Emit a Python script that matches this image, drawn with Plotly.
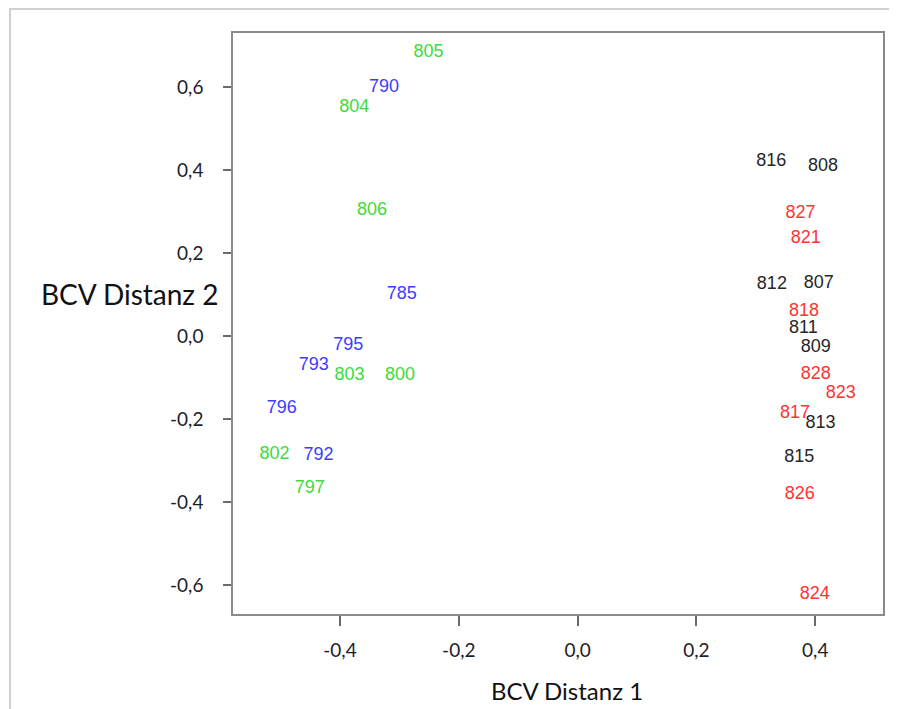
import plotly.graph_objects as go

# ---- data (BCV distances) ----
green_labels = ["805", "804", "806", "803", "800", "802", "797"]
green_x = [-0.251, -0.376, -0.346, -0.384, -0.299, -0.510, -0.451]
green_y = [0.682, 0.550, 0.302, -0.096, -0.096, -0.286, -0.367]

blue_labels = ["790", "785", "795", "793", "796", "792"]
blue_x = [-0.326, -0.296, -0.386, -0.444, -0.498, -0.436]
blue_y = [0.598, 0.101, -0.024, -0.072, -0.176, -0.289]

black_labels = ["816", "808", "812", "807", "811", "809", "813", "815"]
black_x = [0.326, 0.413, 0.327, 0.406, 0.380, 0.401, 0.409, 0.373]
black_y = [0.421, 0.409, 0.123, 0.126, 0.019, -0.029, -0.212, -0.293]

red_labels = ["827", "821", "818", "828", "823", "817", "826", "824"]
red_x = [0.375, 0.384, 0.381, 0.401, 0.443, 0.366, 0.374, 0.399]
red_y = [0.296, 0.234, 0.059, -0.094, -0.138, -0.186, -0.381, -0.622]

x_tickvals = [-0.4, -0.2, 0.0, 0.2, 0.4]
x_ticktext = ["-0,4", "-0,2", "0,0", "0,2", "0,4"]
y_tickvals = [0.6, 0.4, 0.2, 0.0, -0.2, -0.4, -0.6]
y_ticktext = ["0,6", "0,4", "0,2", "0,0", "-0,2", "-0,4", "-0,6"]

x_title = "BCV Distanz 1"
y_title = "BCV Distanz 2"

# the page body has an 8px margin; figure pixel coords = page coords - 8
OFF = 8
W, H = 897 - OFF, 709 - OFF
PL, PR, PT, PB = 233 - OFF, 883 - OFF, 33 - OFF, 614 - OFF
PW, PH = PR - PL, PB - PT


def px(xp):
    return (xp - OFF - PL) / PW


def py(yp):
    return (PB - (yp - OFF)) / PH


fig = go.Figure()
groups = [
    (green_labels, green_x, green_y, "#3cdc3c"),
    (blue_labels, blue_x, blue_y, "#3c3cff"),
    (black_labels, black_x, black_y, "#262626"),
    (red_labels, red_x, red_y, "#ff3333"),
]
for labels, xs, ys, col in groups:
    fig.add_trace(go.Scatter(
        x=xs, y=ys, text=labels, mode="text", textposition="middle center",
        textfont=dict(family="Liberation Sans, Arial, sans-serif", size=18, color=col),
        showlegend=False, hoverinfo="skip",
    ))

axis_common = dict(
    showgrid=False, zeroline=False, showline=True, mirror=True,
    linecolor="#8a8a8a", linewidth=1.5,
    ticks="outside", tickcolor="#6a6a6a", tickwidth=1.5,
    tickfont=dict(family="Lato, Open Sans, sans-serif", size=19, color="#1e1e28"),
)

fig.update_layout(
    width=W, height=H,
    margin=dict(l=PL, r=W - PR, t=PT, b=H - PB),
    paper_bgcolor="white", plot_bgcolor="white",
    xaxis=dict(range=[-0.580, 0.514], tickvals=x_tickvals, ticktext=x_ticktext,
               ticklen=10, ticklabelstandoff=8, **axis_common),
    yaxis=dict(range=[-0.670, 0.730], tickvals=y_tickvals, ticktext=y_ticktext,
               ticklen=8, ticklabelstandoff=16, **axis_common),
    annotations=[
        dict(text=x_title, xref="paper", yref="paper", x=px(567), y=py(690),
             xanchor="center", yanchor="middle", showarrow=False,
             font=dict(family="Lato, Open Sans, sans-serif", size=24, color="#111111")),
        dict(text=y_title, xref="paper", yref="paper", x=px(129), y=py(294),
             xanchor="center", yanchor="middle", showarrow=False,
             font=dict(family="Lato, Open Sans, sans-serif", size=28, color="#111111")),
    ],
    shapes=[
        dict(type="rect", xref="paper", yref="paper",
             x0=px(10), x1=px(893), y0=py(760), y1=py(9),
             line=dict(color="#d0d0d0", width=2), fillcolor="rgba(0,0,0,0)", layer="below"),
    ],
)

fig.write_html("out.html")
